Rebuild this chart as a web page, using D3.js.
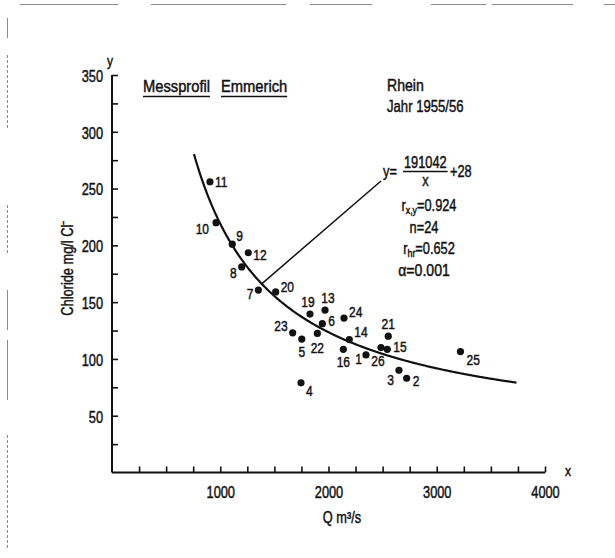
<!DOCTYPE html>
<html>
<head>
<meta charset="utf-8">
<script src="https://cdn.jsdelivr.net/npm/d3@7"></script>
<style>
  html, body { margin: 0; padding: 0; background: #fff; }
  svg { display: block; }
  text { font-family: 'Liberation Sans', Arial, sans-serif; fill: #111; stroke: #111; stroke-width: 0.45px; }
</style>
</head>
<body>
<svg id="chart" width="615" height="558"></svg>
<script>
// Chloride concentration vs. discharge, Rhine at Emmerich, 1955/56
const pointIds  = [1, 2, 3, 4, 5, 6, 7, 8, 9, 10, 11, 12, 13, 14, 15, 16, 19, 20, 21, 22, 23, 24, 25, 26];
const discharge = [2346, 2722, 2651, 1746, 1753, 1943, 1352, 1198, 1111, 961, 905, 1259, 1968, 2192, 2543, 2137, 1829, 1512, 2552, 1897, 1669, 2143, 3219, 2485];
const chloride  = [103.5, 83, 90, 79, 117.5, 131, 160.6, 181, 201, 220, 256, 193.5, 143, 117, 108.5, 108.5, 139.5, 159, 120, 122.5, 123, 136, 106.5, 110];

// regression y = a / x + b
const fitA = 191042;
const fitB = 28;
const fitRange = [757, 3739];

const xTickValues = d3.range(250, 4001, 250);
const xTickLabels = [1000, 2000, 3000, 4000];
const yTickValues = d3.range(25, 351, 25);
const yTickLabels = [50, 100, 150, 200, 250, 300, 350];

const stats = [
  { main: "r", sub: "x,y", rest: "=0.924" },
  { main: "n=24", sub: "", rest: "" },
  { main: "r", sub: "hr", rest: "=0.652" },
  { main: "α=0.001", sub: "", rest: "" }
];

// label placement around each dot: [dx, dy, anchor]
const labelPlace = {
  1: [-4, 4, "end"], 2: [6, 3, "start"], 3: [-5, 9, "end"], 4: [5, 8, "start"],
  5: [0, 13, "middle"], 6: [6, -3, "start"], 7: [-5, 4, "end"], 8: [-5, 6, "end"],
  9: [4, -8, "start"], 10: [-7, 6, "end"], 11: [5, 0, "start"], 12: [5, 2, "start"],
  13: [3, -12, "middle"], 14: [5, -8, "start"], 15: [6, -3, "start"], 16: [0, 12, "middle"],
  19: [-2, -12, "middle"], 20: [5, -5, "start"], 21: [0, -12, "middle"], 22: [0, 14, "middle"],
  23: [-5, -7, "end"], 24: [5, -6, "start"], 25: [6, 8, "start"], 26: [-3, 13, "middle"]
};

const SX = 0.8;      // narrow figures
const SX_WORD = 0.92; // lettering in headings
const svg = d3.select("#chart");

// text drawn with a horizontal squeeze about its anchor point
function txt(parent, x0, y0, str, size = 16, anchor = "start", sx = SX) {
  return parent.append("text")
    .attr("transform", `translate(${x0},${y0}) scale(${sx},1)`)
    .attr("font-size", size).attr("text-anchor", anchor).text(str);
}

const x = d3.scaleLinear().domain([0, 4000]).range([112, 545]);
const y = d3.scaleLinear().domain([0, 350]).range([472.5, 75]);

// scanned frame remnants
const frame = svg.append("g").attr("stroke", "#8a8a8a").attr("stroke-width", 1).attr("fill", "none");
[[20, 118], [151, 286], [310, 372], [431, 486], [492, 573], [604, 615]].forEach(([a, b]) =>
  frame.append("line").attr("x1", a).attr("x2", b).attr("y1", 4.5).attr("y2", 4.5));
[[18, 38], [55, 130], [205, 255], [290, 330], [340, 400], [435, 548]].forEach(([a, b]) =>
  frame.append("line").attr("x1", 7.5).attr("x2", 7.5).attr("y1", a).attr("y2", b).attr("stroke-dasharray", a % 2 ? "3 2" : null));

// axes (ticks point inward)
const xAxis = d3.axisBottom(x).tickValues(xTickValues).tickSize(-6).tickSizeOuter(0)
  .tickFormat(d => xTickLabels.includes(d) ? d : "");
const gx = svg.append("g").attr("transform", `translate(0,${y(0)})`).call(xAxis);
gx.select(".domain").attr("d", `M${x(0)},0H${x(4000)}`);

const yAxis = d3.axisLeft(y).tickValues(yTickValues).tickSize(-6).tickSizeOuter(0)
  .tickFormat(d => yTickLabels.includes(d) ? d : "");
const gy = svg.append("g").attr("transform", `translate(${x(0)},0)`).call(yAxis);
gy.select(".domain").attr("d", `M0,${y(350)}V${y(0)}`);

[gx, gy].forEach(g => {
  g.selectAll(".domain").attr("stroke", "#111").attr("stroke-width", 2);
  g.selectAll(".tick line").attr("stroke", "#111").attr("stroke-width", 1.6);
  g.selectAll(".tick text").attr("font-size", 16).attr("font-family", null)
    .attr("transform", `scale(${SX},1)`).style("fill", "#111");
});
gx.selectAll(".tick text").attr("dy", "1.4em");
gy.selectAll(".tick text").attr("x", -9 / SX).attr("dy", "0.4em");

// axis names
txt(svg, 110, 66, "y", 15, "middle");
txt(svg, 568, 476, "x", 15, "middle");
txt(svg, 342, 523, "Q m³/s", 16, "middle");
svg.append("text").attr("transform", `translate(73,268) rotate(-90) scale(${SX},1)`)
  .attr("font-size", 16).attr("text-anchor", "middle").text("Chloride mg/l Cl⁻");

// headings
[["Messprofil", 143], ["Emmerich", 221]].forEach(([t, x0]) => {
  const el = txt(svg, x0, 91.5, t, 16, "start", SX_WORD);
  const w = el.node().getComputedTextLength() * SX_WORD;
  svg.append("line").attr("x1", x0).attr("x2", x0 + w).attr("y1", 96.5).attr("y2", 96.5)
    .attr("stroke", "#111").attr("stroke-width", 1.6);
});
txt(svg, 387, 91, "Rhein", 16, "start", 0.88);
txt(svg, 387, 112, "Jahr 1955/56", 16, "start", 0.82);

// fitted curve
const curveData = d3.range(fitRange[0], fitRange[1] + 1, 10).map(q => [q, fitA / q + fitB]);
svg.append("path").datum(curveData)
  .attr("fill", "none").attr("stroke", "#111").attr("stroke-width", 2.2)
  .attr("d", d3.line().x(d => x(d[0])).y(d => y(d[1])).curve(d3.curveBasis));

// leader from the curve to the equation
const leadQ = 1383;
svg.append("line")
  .attr("x1", x(leadQ)).attr("y1", y(fitA / leadQ + fitB))
  .attr("x2", 381).attr("y2", 181)
  .attr("stroke", "#111").attr("stroke-width", 1.5);

// equation
const eq = svg.append("g");
txt(eq, 383, 177, "y=", 16);
const num = txt(eq, 404, 168, String(fitA), 16);
const nw = num.node().getComputedTextLength() * SX;
eq.append("line").attr("x1", 403).attr("x2", 405 + nw).attr("y1", 171.5).attr("y2", 171.5)
  .attr("stroke", "#111").attr("stroke-width", 1.5);
txt(eq, 404 + nw / 2, 186, "x", 16, "middle");
txt(eq, 450, 177, "+" + fitB, 16);

// statistics
stats.forEach((s, i) => {
  const t = txt(svg, s.sub ? 429 : 424, 211 + i * 21.5, s.main, 16, "middle", s.main.startsWith("α") ? 0.88 : SX);
  if (s.sub) {
    t.append("tspan").attr("font-size", 11).attr("dy", 3).text(s.sub);
    t.append("tspan").attr("dy", -3).text(s.rest);
  }
});

// measurements
const pts = pointIds.map((id, i) => ({ id, q: discharge[i], c: chloride[i] }));
svg.append("g").selectAll("circle").data(pts).join("circle")
  .attr("cx", d => x(d.q)).attr("cy", d => y(d.c)).attr("r", 3.6).attr("fill", "#111");
const lab = svg.append("g");
pts.forEach(d => {
  const [dx, dy, anchor] = labelPlace[d.id];
  txt(lab, x(d.q) + dx, y(d.c) + dy, d.id, 15, anchor).attr("dy", "0.35em");
});
</script>
</body>
</html>
